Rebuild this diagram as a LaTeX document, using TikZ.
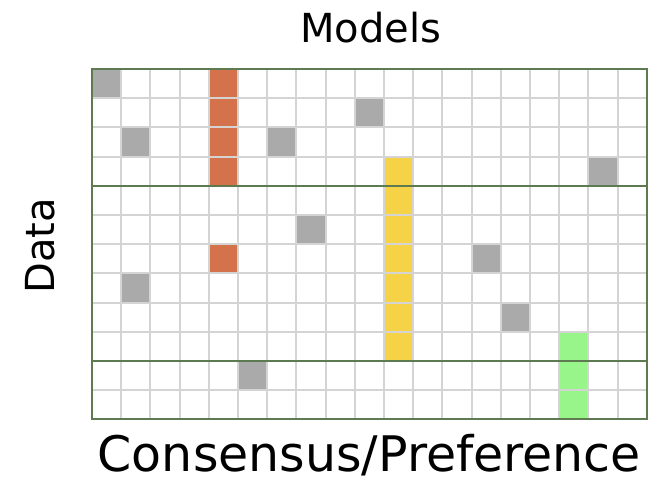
\documentclass[tikz,border=0pt]{standalone}
\usepackage{fontspec}
\setmainfont{DejaVu Sans}

\definecolor{cellgray}{HTML}{A9AAA9}
\definecolor{cellorange}{HTML}{D4724B}
\definecolor{cellyellow}{HTML}{F6D246}
\definecolor{cellgreen}{HTML}{98F58A}
\definecolor{gridline}{HTML}{D4D4D4}
\definecolor{groupline}{HTML}{5E7A50}

\tikzset{
  label/.style={font=\fontsize{30}{36}\selectfont, anchor=base, inner sep=0pt},
  biglabel/.style={font=\fontsize{36.75}{44}\selectfont, anchor=base, inner sep=0pt, text depth=0pt},
}

\begin{document}
\begin{tikzpicture}[x=21.9pt, y=21.9pt]
    \useasboundingbox (-3.15,2.36) rectangle (19.69,-14.12);

    % single cells, (column/row) counted from the top left
    \foreach \c/\r in {1/1,10/2,2/3,7/3,18/4,8/6,14/7,2/8,15/9,6/11}
        \fill[cellgray] (\c-1,-\r+1) rectangle (\c,-\r);

    % coloured runs
    \fill[cellorange] (4,0) rectangle (5,-4);
    \fill[cellorange] (4,-6) rectangle (5,-7);
    \fill[cellyellow] (10,-3) rectangle (11,-10);
    \fill[cellgreen] (16,-9) rectangle (17,-12);

    % grid and group borders
    \draw[gridline, line width=1.5pt, step={(1,1)}] (0,0) grid (19,-12);
    \draw[groupline, line width=1.4pt] (0,0) rectangle (19,-12);
    \draw[groupline, line width=1.4pt] (0,-4) -- (19,-4);
    \draw[groupline, line width=1.4pt] (0,-10) -- (19,-10);

    \node[label] (models) at (9.55,0.90) {Models};
    \node[label, rotate=90] (data) at (-1.27,-6.06) {Data};
    \node[biglabel] (consensus) at (9.5,-13.8) {Consensus/Preference};
\end{tikzpicture}
\end{document}
